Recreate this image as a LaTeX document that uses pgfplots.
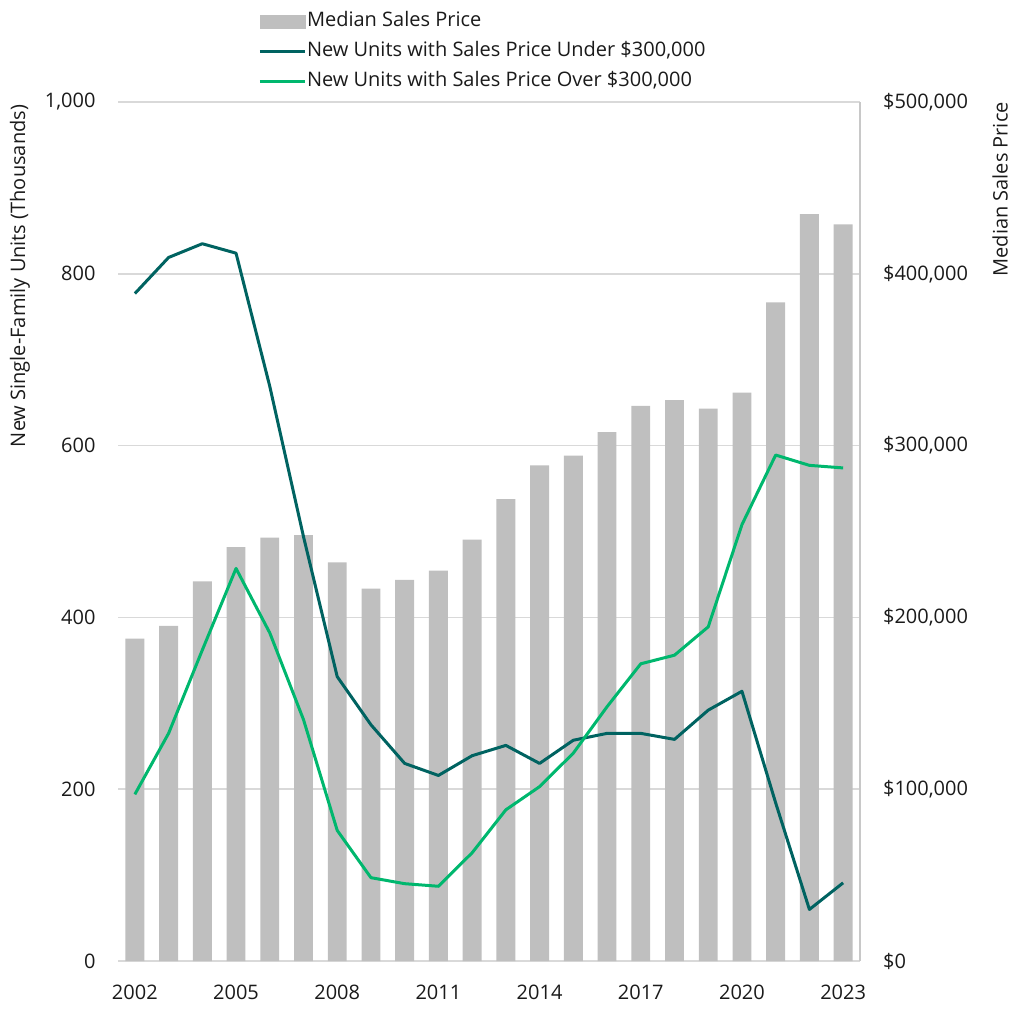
\documentclass[border=0pt]{standalone}
\usepackage{pgfplots}
\pgfplotsset{compat=1.18}
\usepackage{fontspec}
\setmainfont{Open Sans}
\definecolor{barGray}{HTML}{BFBFBF}
\definecolor{darkTeal}{HTML}{006361}
\definecolor{brightGreen}{HTML}{00B76E}
\definecolor{gridGray}{HTML}{D9D9D9}
\definecolor{axGray}{HTML}{C8C8C8}
\definecolor{txt}{HTML}{1A1A1A}
\pgfplotsset{
  linelegend/.style={legend image code/.code={\draw[##1] (0pt,0pt) -- (22.5pt,0pt);}},
  barlegend/.style={legend image code/.code={\fill[barGray] (0pt,-3.25pt) rectangle (22.5pt,3.25pt);}},
}
\begin{document}
\begin{tikzpicture}
\useasboundingbox (-59pt,-31.5pt) rectangle (453pt,480.5pt);
\begin{axis}[
  width=371pt, height=429.5pt, scale only axis,
  xmin=2001.5, xmax=2023.5, ymin=0, ymax=500000,
  axis x line*=bottom, axis y line*=right,
  x axis line style={draw=gridGray, line width=0.75pt, -},
  y axis line style={draw=axGray, line width=0.75pt, -},
  xtick={2002,2005,...,2023},
  ytick={0,100000,...,500000},
  scaled y ticks=false,
  ymajorgrids, grid style={gridGray, line width=0.75pt},
  major tick length=0pt,
  tick label style={font=\fontsize{10}{12}\selectfont, text=txt},
  /pgf/number format/assume math mode=true,
  x tick label style={/pgf/number format/1000 sep={}, yshift=-8.7pt},
  y tick label style={xshift=8pt},
  yticklabel={\$\pgfmathprintnumber[fixed,precision=0,1000 sep={,}]{\tick}},
  every axis y label/.style={at={(axis description cs:1.1887,1.008)}, rotate=90, anchor=east, font=\fontsize{10}{12}\selectfont, text=txt},
  ylabel={Median Sales Price},
]
\addplot[ybar, bar width=0.56, bar shift=0pt, fill=barGray, draw=none] table[x=year, y=price] {
year price
2002 187600
2003 195000
2004 221000
2005 240900
2006 246500
2007 247900
2008 232100
2009 216700
2010 221800
2011 227200
2012 245200
2013 268900
2014 288500
2015 294200
2016 307800
2017 323100
2018 326400
2019 321500
2020 330800
2021 383400
2022 434800
2023 428800
};
\end{axis}
\begin{axis}[
  width=371pt, height=429.5pt, scale only axis,
  xmin=2001.5, xmax=2023.5, ymin=0, ymax=1000,
  axis x line=none, axis y line*=left,
  y axis line style={draw=none},
  ytick={0,200,...,1000},
  major tick length=0pt,
  tick label style={font=\fontsize{10}{12}\selectfont, text=txt},
  /pgf/number format/assume math mode=true,
  y tick label style={/pgf/number format/1000 sep={,}, xshift=-7.7pt},
  every axis y label/.style={at={(axis description cs:-0.1321,1.0047)}, rotate=90, anchor=east, font=\fontsize{10}{12}\selectfont, text=txt},
  ylabel={New Single-Family Units (Thousands)},
  legend style={draw=none, fill=none, at={(axis description cs:0.1887,1.1058)}, anchor=north west,
    legend cell align=left, inner sep=0pt, row sep=5pt, column sep=0.3pt,
    font=\fontsize{10}{12}\selectfont, text=txt,
    nodes={inner sep=0pt, text height=7.5pt, text depth=2.5pt}},
]
\addlegendimage{barlegend}
\addlegendentry{Median Sales Price}
\addplot[darkTeal, line width=1.5pt, line join=round, linelegend] table[x=year, y=under] {
year under
2002 777
2003 819
2004 835
2005 824
2006 669
2007 494
2008 331
2009 275
2010 230
2011 216
2012 239
2013 251
2014 230
2015 257
2016 265
2017 265
2018 258
2019 292
2020 314
2021 184
2022 60
2023 91
};
\addlegendentry{New Units with Sales Price Under \$300,000}
\addplot[brightGreen, line width=1.5pt, line join=round, linelegend] table[x=year, y=over] {
year over
2002 194
2003 265
2004 362
2005 457
2006 382
2007 281
2008 152
2009 97
2010 90
2011 87
2012 126
2013 176
2014 203
2015 242
2016 296
2017 346
2018 356
2019 389
2020 508
2021 589
2022 577
2023 574
};
\addlegendentry{New Units with Sales Price Over \$300,000}
\end{axis}
\end{tikzpicture}
\end{document}
